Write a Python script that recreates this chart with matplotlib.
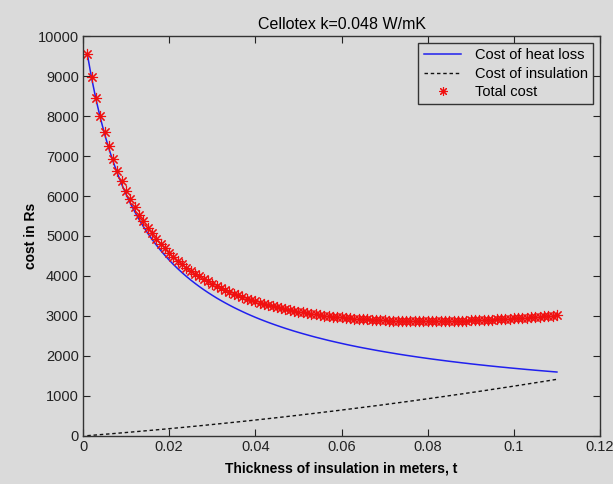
import matplotlib
matplotlib.use("Agg")
import matplotlib.pyplot as plt
import numpy as np

plt.rcParams["font.family"] = ["Liberation Sans", "DejaVu Sans"]

# thickness of insulation, t (m)
thickness = [n / 1000 for n in range(1, 111)]

# cost of heat loss (Rs)
heat_loss = [
    9547, 8948, 8424, 7963, 7554, 7188, 6859, 6561, 6290, 6043,
    5817, 5609, 5417, 5239, 5074, 4920, 4777, 4643, 4517, 4398,
    4287, 4182, 4083, 3989, 3900, 3816, 3736, 3660, 3587, 3518,
    3451, 3388, 3328, 3270, 3214, 3161, 3110, 3060, 3013, 2967,
    2923, 2881, 2840, 2801, 2763, 2726, 2690, 2656, 2622, 2590,
    2559, 2529, 2499, 2470, 2443, 2416, 2389, 2364, 2339, 2315,
    2291, 2268, 2246, 2224, 2203, 2183, 2163, 2143, 2124, 2105,
    2087, 2069, 2051, 2034, 2017, 2001, 1985, 1969, 1954, 1939,
    1924, 1910, 1896, 1882, 1868, 1855, 1842, 1829, 1817, 1804,
    1792, 1780, 1769, 1757, 1746, 1735, 1724, 1714, 1703, 1693,
    1683, 1673, 1663, 1654, 1644, 1635, 1626, 1617, 1608, 1599,
]

# cost of insulation (Rs), dashed curve
insulation = [
    8, 17, 25, 34, 43, 51, 60, 69, 78, 87,
    96, 106, 115, 125, 134, 144, 153, 163, 173, 183,
    193, 203, 213, 223, 234, 244, 255, 265, 276, 287,
    298, 309, 320, 331, 342, 353, 364, 376, 387, 399,
    411, 422, 434, 446, 458, 470, 482, 495, 507, 519,
    532, 545, 557, 570, 583, 596, 609, 622, 635, 648,
    662, 675, 689, 702, 716, 730, 743, 757, 771, 785,
    800, 814, 828, 843, 857, 872, 886, 901, 916, 931,
    946, 961, 976, 991, 1007, 1022, 1038, 1053, 1069, 1085,
    1100, 1116, 1132, 1148, 1165, 1181, 1197, 1214, 1230, 1247,
    1263, 1280, 1297, 1314, 1331, 1348, 1365, 1382, 1400, 1417,
]

# total cost (Rs), red asterisks
total = [
    9555, 8965, 8449, 7997, 7597, 7239, 6919, 6630, 6368, 6130,
    5913, 5715, 5532, 5364, 5208, 5064, 4930, 4806, 4690, 4581,
    4480, 4385, 4296, 4212, 4134, 4060, 3991, 3925, 3863, 3805,
    3749, 3697, 3648, 3601, 3556, 3514, 3474, 3436, 3400, 3366,
    3334, 3303, 3274, 3247, 3221, 3196, 3172, 3151, 3129, 3109,
    3091, 3074, 3056, 3040, 3026, 3012, 2998, 2986, 2974, 2963,
    2953, 2943, 2935, 2926, 2919, 2913, 2906, 2900, 2895, 2890,
    2887, 2883, 2879, 2877, 2874, 2873, 2871, 2870, 2870, 2870,
    2870, 2871, 2872, 2873, 2875, 2877, 2880, 2882, 2886, 2889,
    2892, 2896, 2901, 2905, 2911, 2916, 2921, 2928, 2933, 2940,
    2946, 2953, 2960, 2968, 2975, 2983, 2991, 2999, 3008, 3016,
]

bg = "#dadada"
fig = plt.figure(figsize=(6.13, 4.84), dpi=100, facecolor=bg)
ax = fig.add_axes([0.1354, 0.0992, 0.8434, 0.8264], facecolor=bg)

ax.plot(thickness, heat_loss, color="#2020ee", lw=1.1, label="Cost of heat loss")
ax.plot(thickness, insulation, color="#111111", lw=1.0, ls=(0, (2.5, 2)),
        label="Cost of insulation")
ax.plot(thickness, total, ls="none", marker=(8, 2, 0), ms=8, mew=0.8,
        color="#f01010", label="Total cost")

ax.set_xlim(0, 0.12)
ax.set_ylim(0, 10000)
ax.set_xticks([0, 0.02, 0.04, 0.06, 0.08, 0.1, 0.12])
ax.set_xticklabels(["0", "0.02", "0.04", "0.06", "0.08", "0.1", "0.12"])
ax.set_yticks(np.arange(0, 10001, 1000))
ax.tick_params(direction="in", length=5, width=0.8, top=True, right=True,
               labelsize=10.5, colors="#222222", pad=3)
for s in ax.spines.values():
    s.set_color("#333333")
    s.set_linewidth(1.0)

ax.set_title("Cellotex k=0.048 W/mK", fontsize=11.5, pad=5)
ax.set_xlabel("Thickness of insulation in meters, t", fontsize=10, fontweight="bold",
              labelpad=5)
ax.set_ylabel("cost in Rs", fontsize=10, fontweight="bold", labelpad=0)

leg = ax.legend(loc="upper right", fontsize=10.5, frameon=True, fancybox=False,
                facecolor=bg, edgecolor="#333333", framealpha=1,
                borderaxespad=0.5, handlelength=2.6, labelspacing=0.3,
                borderpad=0.35, handletextpad=0.9, markerscale=0.8)
leg.get_frame().set_linewidth(1.0)

fig.savefig("out.png", dpi=100, facecolor=bg)
